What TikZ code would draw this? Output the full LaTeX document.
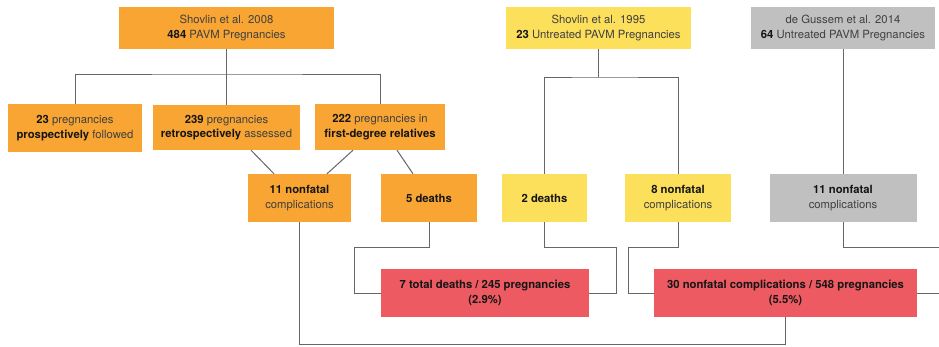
\documentclass[tikz,border=0pt]{standalone}
\usepackage{fontspec}
\setmainfont{TeX Gyre Heros}
\definecolor{orangebox}{HTML}{F8A534}
\definecolor{yellowbox}{HTML}{FCDF5B}
\definecolor{graybox}{HTML}{C0C0C0}
\definecolor{redbox}{HTML}{EE5A62}
\definecolor{linegray}{HTML}{666666}
\definecolor{txt}{HTML}{404040}
\definecolor{btxt}{HTML}{151515}
\newcommand{\bt}[1]{\textbf{\textcolor{btxt}{#1}}}
\begin{document}
\begin{tikzpicture}[x=1pt,y=-1pt,
  box/.style={rectangle, inner sep=0pt, align=center, text=txt,
    font=\fontsize{11.3}{14.3}\selectfont},
  obox/.style={box, fill=orangebox},
  ybox/.style={box, fill=yellowbox},
  gbox/.style={box, fill=graybox},
  rbox/.style={box, fill=redbox},
  conn/.style={draw=linegray, line width=1pt}]
\useasboundingbox (0,0) rectangle (939,346);
% top row
\node[obox, minimum width=215pt, minimum height=42pt] (top1) at (226.5,28) {Shovlin et al. 2008\\\bt{484} PAVM Pregnancies};
\node[ybox, minimum width=185pt, minimum height=42pt] (top2) at (598.5,28) {Shovlin et al. 1995\\\bt{23} Untreated PAVM Pregnancies};
\node[gbox, minimum width=184pt, minimum height=42pt] (top3) at (843,28) {de Gussem et al. 2014\\\bt{64} Untreated PAVM Pregnancies};
% second row
\node[obox, minimum width=134pt, minimum height=48pt] (b1) at (75,128) {\bt{23} pregnancies\\\bt{prospectively} followed};
\node[obox, minimum width=147pt, minimum height=45pt] (b2) at (226.5,127.5) {\bt{239} pregnancies\\\bt{retrospectively} assessed};
\node[obox, minimum width=130pt, minimum height=46pt] (b3) at (380,127) {\bt{222} pregnancies in\\\bt{first-degree relatives}};
% third row
\node[obox, minimum width=103pt, minimum height=48pt] (c1) at (299.5,198) {\bt{11 nonfatal}\\complications};
\node[obox, minimum width=96pt, minimum height=48pt] (c2) at (429,198) {\bt{5 deaths}};
\node[ybox, minimum width=85pt, minimum height=48pt] (c3) at (544.5,198) {\bt{2 deaths}};
\node[ybox, minimum width=106pt, minimum height=48pt] (c4) at (678,198) {\bt{8 nonfatal}\\complications};
\node[gbox, minimum width=147pt, minimum height=48pt] (c5) at (843,198) {\bt{11 nonfatal}\\complications};
% results
\node[rbox, minimum width=208pt, minimum height=48pt] (r1) at (485,293) {\bt{7 total deaths / 245 pregnancies}\\\bt{(2.9\%)}};
\node[rbox, minimum width=263pt, minimum height=48pt] (r2) at (785.5,293) {\bt{30 nonfatal complications / 548 pregnancies}\\\bt{(5.5\%)}};
% junctions
\coordinate (j1) at (226.5,74);
\coordinate (j2) at (598.5,77);
\coordinate (k1) at (354,247);
\coordinate (k2) at (616,247);
\coordinate (k3) at (628,247);
\coordinate (k4) at (939,247);
\coordinate (k5) at (939,293);
% connectors
\draw[conn] (top1.south) -- (b2.north);
\draw[conn] (b1.north) |- (j1) -| (b3.north);
\draw[conn] (top2.south) -- (j2);
\draw[conn] (c3.north) |- (j2) -| (c4.north);
\draw[conn] (top3.south) -- (c5.north);
\draw[conn] ([xshift=24.5pt]b2.south) -- ([xshift=-25.5pt]c1.north);
\draw[conn] ([xshift=-27pt]b3.south) -- ([xshift=27.5pt]c1.north);
\draw[conn] ([xshift=17pt]b3.south) -- ([xshift=-16pt]c2.north);
\draw[conn] (c1.south) -- ++(0,122) -| (r2.south);
\draw[conn] (c2.south) |- (k1) |- (r1.west);
\draw[conn] (c3.south) |- (k2) |- (r1.east);
\draw[conn] (c4.south) |- (k3) |- (r2.west);
\draw[conn] (c5.south) |- (k4);
\draw[conn] (r2.east) -- (k5);
\end{tikzpicture}
\end{document}
